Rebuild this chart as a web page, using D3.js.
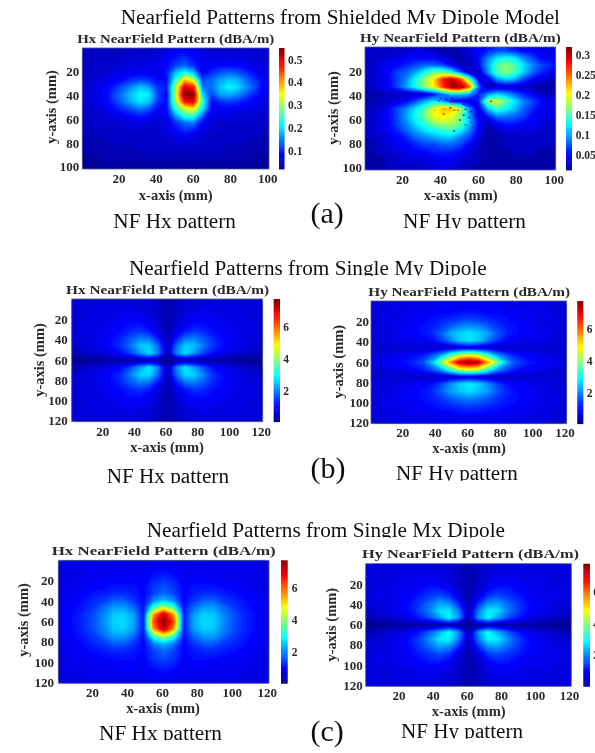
<!DOCTYPE html>
<html><head><meta charset="utf-8">
<script src="https://cdnjs.cloudflare.com/ajax/libs/d3/7.8.5/d3.min.js"></script>
<style>html,body{margin:0;padding:0;background:#fff;overflow:hidden}svg{display:block}</style>
</head><body><svg id="c" width="595" height="753"></svg>
<script>
// 21 columns x 17 rows
const hxShielded=[
.05,.05,.05,.05,.05,.05,.05,.05,.06,.07,.08,.09,.08,.07,.06,.06,.06,.06,.06,.06,.06,
.05,.05,.05,.05,.06,.06,.06,.06,.07,.08,.10,.11,.09,.07,.07,.07,.07,.07,.07,.06,.06,
.05,.05,.06,.06,.06,.07,.07,.07,.07,.09,.12,.14,.11,.08,.08,.09,.09,.09,.08,.07,.07,
.05,.06,.06,.07,.07,.08,.08,.08,.07,.10,.19,.23,.19,.08,.11,.13,.14,.13,.11,.09,.07,
.06,.06,.07,.08,.09,.11,.12,.11,.09,.09,.24,.38,.33,.12,.14,.17,.19,.18,.14,.11,.08,
.06,.07,.08,.10,.13,.16,.19,.17,.11,.10,.30,.50,.47,.15,.14,.19,.22,.20,.16,.12,.08,
.06,.07,.08,.12,.15,.19,.22,.21,.12,.08,.31,.55,.54,.20,.12,.17,.18,.16,.13,.10,.08,
.06,.07,.08,.11,.14,.18,.21,.19,.11,.09,.30,.48,.50,.25,.09,.11,.12,.11,.09,.08,.07,
.06,.06,.07,.09,.11,.13,.15,.13,.09,.09,.24,.33,.36,.22,.08,.08,.08,.08,.07,.07,.06,
.05,.06,.06,.07,.08,.09,.10,.09,.07,.08,.17,.24,.25,.14,.07,.07,.07,.06,.06,.06,.06,
.05,.05,.06,.06,.06,.07,.07,.06,.06,.07,.11,.14,.15,.09,.06,.06,.06,.06,.06,.05,.05,
.05,.05,.05,.05,.05,.06,.06,.05,.06,.07,.09,.11,.10,.07,.06,.06,.05,.05,.05,.05,.05,
.04,.04,.05,.05,.05,.05,.05,.05,.05,.06,.07,.08,.07,.06,.05,.05,.05,.05,.05,.05,.04,
.04,.04,.04,.05,.05,.05,.05,.05,.05,.05,.06,.06,.06,.05,.05,.05,.05,.05,.04,.04,.04,
.04,.04,.04,.04,.04,.04,.05,.05,.05,.05,.05,.05,.05,.05,.05,.05,.04,.04,.04,.04,.04,
.03,.03,.04,.04,.04,.04,.04,.04,.04,.04,.04,.04,.04,.04,.04,.04,.04,.04,.04,.03,.03,
.02,.02,.03,.03,.03,.03,.03,.03,.03,.03,.03,.03,.03,.03,.03,.03,.03,.03,.03,.03,.03];
const hyShielded=[
.03,.03,.03,.03,.03,.04,.04,.03,.02,.02,.03,.04,.05,.06,.07,.07,.06,.05,.05,.04,.04,
.03,.03,.04,.04,.05,.05,.05,.05,.04,.03,.02,.03,.05,.09,.12,.13,.12,.09,.07,.05,.05,
.03,.04,.05,.05,.06,.07,.08,.08,.07,.05,.03,.03,.05,.10,.15,.17,.15,.12,.09,.07,.06,
.03,.04,.05,.07,.08,.10,.13,.16,.16,.13,.08,.03,.03,.09,.15,.17,.15,.11,.08,.06,.05,
.03,.04,.05,.07,.09,.13,.17,.21,.27,.30,.26,.16,.05,.04,.09,.11,.10,.07,.05,.04,.03,
.03,.04,.05,.07,.10,.13,.17,.20,.26,.31,.31,.25,.08,.02,.03,.03,.03,.03,.02,.02,.02,
.02,.02,.03,.03,.03,.03,.03,.05,.08,.11,.11,.10,.06,.09,.11,.10,.08,.06,.05,.03,.03,
.02,.03,.03,.04,.05,.07,.10,.12,.10,.05,.04,.04,.06,.17,.19,.16,.12,.09,.07,.05,.04,
.03,.03,.05,.07,.09,.12,.15,.19,.22,.22,.18,.09,.04,.11,.15,.13,.11,.08,.06,.05,.04,
.03,.04,.05,.07,.10,.13,.16,.20,.21,.20,.17,.10,.04,.06,.09,.09,.08,.07,.05,.04,.04,
.03,.04,.05,.07,.09,.12,.14,.17,.18,.18,.16,.11,.05,.03,.05,.06,.06,.05,.05,.04,.03,
.03,.04,.05,.06,.08,.10,.12,.13,.14,.15,.13,.09,.05,.02,.03,.04,.04,.04,.04,.03,.03,
.03,.03,.04,.05,.06,.08,.09,.10,.11,.11,.09,.07,.04,.02,.02,.03,.03,.03,.03,.03,.03,
.02,.03,.04,.05,.05,.06,.07,.07,.08,.08,.07,.05,.03,.02,.02,.03,.03,.03,.03,.03,.03,
.02,.03,.03,.04,.04,.05,.05,.06,.06,.06,.05,.04,.03,.02,.02,.02,.03,.03,.03,.02,.02,
.02,.02,.03,.03,.04,.04,.04,.04,.05,.05,.04,.03,.03,.02,.02,.02,.02,.02,.02,.02,.02,
.02,.02,.03,.03,.03,.03,.03,.04,.04,.04,.03,.03,.02,.02,.02,.02,.02,.02,.02,.02,.02];
// isolated noisy samples in the Hy shielded map: [x mm, y mm, value]
const hySpecks=[[41.5,55,.29],[45,50,.3],[47,52,.28],[49,52,.26],[42,51,.25],[66.5,44.5,.29],[51.5,33,.31],[37,52,.23],[53,53,.22],[46,47,.24],
[40,42,.05],[43,43,.05],[46,42,.04],[49,43,.04],[52,43,.05],[55,42,.04],[57,44,.05],[52,47,.04],[55,48,.05],[58,47,.04],[53,51,.05],[56,53,.04],[59,50,.05],[52,56,.05],[55,58,.04],[58,56,.05],[60,54,.04],[50,60,.06],[56,62,.05],[57,66,.06],[53,64,.07],[47,69,.06],[60,60,.05],[39,44,.06],[45,45,.07]];
const hxMy=[
.7,.7,.7,.7,.7,.7,.7,.7,.6,.5,.3,.5,.6,.7,.7,.7,.7,.7,.7,.7,.7,
.7,.7,.7,.8,.8,.8,.8,.7,.7,.5,.3,.5,.7,.7,.8,.8,.8,.8,.7,.7,.7,
.7,.7,.8,.8,.8,.9,.9,.9,.8,.5,.3,.5,.8,.9,.9,.9,.8,.8,.8,.7,.7,
.7,.8,.8,.8,.9,1.0,1.1,1.1,.9,.6,.3,.6,.9,1.1,1.1,1.0,.9,.8,.8,.8,.7,
.7,.8,.8,.9,.95,1.1,1.3,1.4,1.2,.8,.3,.8,1.2,1.4,1.3,1.1,.95,.9,.8,.8,.7,
.7,.7,.8,.9,1.1,1.3,1.7,2.0,1.9,1.2,.3,1.2,1.9,2.0,1.7,1.3,1.1,.9,.8,.7,.7,
.6,.7,.8,.9,1.1,1.4,1.9,2.5,2.6,1.8,.4,1.8,2.6,2.5,1.9,1.4,1.1,.9,.8,.7,.6,
.4,.5,.6,.7,.9,1.1,1.5,2.1,2.7,2.0,.4,2.0,2.7,2.1,1.5,1.1,.9,.7,.6,.5,.4,
.1,.1,.1,.2,.2,.2,.2,.2,.2,.2,.1,.2,.2,.2,.2,.2,.2,.2,.1,.1,.1,
.4,.5,.6,.7,.9,1.1,1.6,2.2,2.8,2.0,.4,2.0,2.8,2.2,1.6,1.1,.9,.7,.6,.5,.4,
.6,.7,.8,.9,1.1,1.4,2.0,2.6,2.7,1.8,.4,1.8,2.7,2.6,2.0,1.4,1.1,.9,.8,.7,.6,
.7,.7,.8,.9,1.1,1.3,1.7,2.0,1.9,1.2,.3,1.2,1.9,2.0,1.7,1.3,1.1,.9,.8,.7,.7,
.7,.8,.8,.9,.95,1.1,1.3,1.4,1.2,.8,.3,.8,1.2,1.4,1.3,1.1,.95,.9,.8,.8,.7,
.7,.8,.8,.8,.9,1.0,1.1,1.1,.9,.6,.3,.6,.9,1.1,1.1,1.0,.9,.8,.8,.8,.7,
.7,.7,.8,.8,.8,.9,.9,.9,.8,.5,.3,.5,.8,.9,.9,.9,.8,.8,.8,.7,.7,
.7,.7,.7,.8,.8,.8,.8,.7,.7,.5,.3,.5,.7,.7,.8,.8,.8,.8,.7,.7,.7,
.7,.7,.7,.7,.7,.7,.7,.7,.6,.5,.3,.5,.6,.7,.7,.7,.7,.7,.7,.7,.7];
const hyMy=[
.7,.7,.8,.8,.8,.8,.8,.9,.9,.9,.9,.9,.9,.9,.8,.8,.8,.8,.8,.7,.7,
.7,.7,.8,.8,.9,.9,.9,1.0,1.0,1.1,1.1,1.1,1.0,1.0,.9,.9,.9,.8,.8,.7,.7,
.7,.8,.8,.9,.9,1.0,1.1,1.2,1.3,1.4,1.5,1.4,1.3,1.2,1.1,1.0,.9,.9,.8,.8,.7,
.7,.8,.8,.9,1.0,1.1,1.2,1.4,1.7,2.0,2.1,2.0,1.7,1.4,1.2,1.1,1.0,.9,.8,.8,.7,
.7,.7,.8,.9,1.0,1.1,1.3,1.7,2.3,2.6,2.8,2.6,2.3,1.7,1.3,1.1,1.0,.9,.8,.7,.7,
.7,.7,.8,.8,.8,.9,1.0,1.4,1.9,2.5,2.7,2.5,1.9,1.4,1.0,.9,.8,.8,.8,.7,.7,
.6,.6,.6,.6,.6,.6,.5,.5,.5,.5,.6,.5,.5,.5,.5,.6,.6,.6,.6,.6,.6,
.6,.7,.8,.9,1.0,1.2,1.6,2.2,3.3,4.3,4.6,4.3,3.3,2.2,1.6,1.2,1.0,.9,.8,.7,.6,
.8,.9,1.0,1.1,1.3,1.6,2.4,4.0,5.6,7.2,7.6,7.2,5.6,4.0,2.4,1.6,1.3,1.1,1.0,.9,.8,
.6,.7,.8,.9,1.0,1.2,1.6,2.2,3.3,4.3,4.6,4.3,3.3,2.2,1.6,1.2,1.0,.9,.8,.7,.6,
.6,.6,.6,.6,.6,.6,.5,.5,.5,.5,.6,.5,.5,.5,.5,.6,.6,.6,.6,.6,.6,
.7,.7,.8,.8,.9,1.0,1.1,1.5,2.1,2.6,2.9,2.6,2.1,1.5,1.1,1.0,.9,.8,.8,.7,.7,
.7,.7,.8,.9,1.0,1.1,1.3,1.7,2.2,2.5,2.7,2.5,2.2,1.7,1.3,1.1,1.0,.9,.8,.7,.7,
.7,.8,.8,.9,1.0,1.1,1.2,1.4,1.7,1.9,2.0,1.9,1.7,1.4,1.2,1.1,1.0,.9,.8,.8,.7,
.7,.8,.8,.9,.9,1.0,1.1,1.2,1.3,1.4,1.5,1.4,1.3,1.2,1.1,1.0,.9,.9,.8,.8,.7,
.7,.7,.8,.8,.9,.9,.9,1.0,1.0,1.1,1.1,1.1,1.0,1.0,.9,.9,.9,.8,.8,.7,.7,
.7,.7,.8,.8,.8,.8,.8,.9,.9,.9,.9,.9,.9,.9,.8,.8,.8,.8,.8,.7,.7];
const hxMx=[
.8,.8,.8,.8,.8,.9,.9,.9,.8,.9,.9,.9,.8,.9,.9,.9,.8,.8,.8,.8,.8,
.8,.8,.8,.9,.9,.9,.9,.9,.9,1.0,1.1,1.0,.9,.9,.9,.9,.9,.9,.8,.8,.8,
.8,.8,.9,.9,.9,.9,1.0,1.0,.9,1.2,1.3,1.2,.9,1.0,1.0,.9,.9,.9,.9,.8,.8,
.8,.9,.9,1.0,1.0,1.1,1.1,1.1,1.0,1.4,1.6,1.4,1.0,1.1,1.1,1.1,1.0,1.0,.9,.9,.8,
.8,.9,1.0,1.1,1.2,1.3,1.3,1.2,1.0,1.5,1.8,1.5,1.0,1.2,1.3,1.3,1.2,1.1,1.0,.9,.8,
.9,.9,1.1,1.3,1.4,1.7,1.7,1.4,1.0,2.0,2.4,2.0,1.0,1.4,1.7,1.7,1.4,1.3,1.1,1.0,.9,
.9,1.0,1.2,1.4,1.8,2.2,2.2,1.8,1.1,3.3,4.4,3.3,1.1,1.8,2.2,2.2,1.8,1.4,1.2,1.0,.9,
.9,1.1,1.3,1.6,2.0,2.5,2.6,2.2,1.1,5.6,7.2,5.6,1.1,2.2,2.6,2.5,2.0,1.6,1.3,1.1,.9,
.9,1.1,1.3,1.6,2.1,2.6,2.7,2.3,1.1,6.2,7.7,6.2,1.1,2.3,2.7,2.6,2.1,1.6,1.3,1.1,.9,
.9,1.1,1.3,1.6,2.0,2.5,2.6,2.2,1.1,5.6,7.2,5.6,1.1,2.2,2.6,2.5,2.0,1.6,1.3,1.1,.9,
.9,1.0,1.2,1.4,1.8,2.2,2.2,1.8,1.1,3.3,4.4,3.3,1.1,1.8,2.2,2.2,1.8,1.4,1.2,1.0,.9,
.9,.9,1.1,1.3,1.4,1.7,1.7,1.4,1.0,2.0,2.4,2.0,1.0,1.4,1.7,1.7,1.4,1.3,1.1,1.0,.9,
.8,.9,1.0,1.1,1.2,1.3,1.3,1.2,1.0,1.5,1.8,1.5,1.0,1.2,1.3,1.3,1.2,1.1,1.0,.9,.8,
.8,.9,.9,1.0,1.0,1.1,1.1,1.1,1.0,1.4,1.6,1.4,1.0,1.1,1.1,1.1,1.0,1.0,.9,.9,.8,
.8,.8,.9,.9,.9,.9,1.0,1.0,.9,1.2,1.3,1.2,.9,1.0,1.0,.9,.9,.9,.9,.8,.8,
.8,.8,.8,.9,.9,.9,.9,.9,.9,1.0,1.1,1.0,.9,.9,.9,.9,.9,.9,.8,.8,.8,
.8,.8,.8,.8,.8,.9,.9,.9,.8,.9,.9,.9,.8,.9,.9,.9,.8,.8,.8,.8,.8];
const hyMx=[
.7,.7,.7,.7,.7,.7,.7,.7,.6,.5,.3,.5,.6,.7,.7,.7,.7,.7,.7,.7,.7,
.7,.7,.7,.8,.8,.8,.8,.8,.7,.5,.3,.5,.7,.8,.8,.8,.8,.8,.7,.7,.7,
.7,.7,.8,.8,.8,.9,.9,.9,.8,.5,.3,.5,.8,.9,.9,.9,.8,.8,.8,.7,.7,
.7,.8,.8,.9,.9,1.0,1.2,1.2,1.0,.6,.3,.6,1.0,1.2,1.2,1.0,.9,.9,.8,.8,.7,
.7,.8,.8,.9,1.0,1.2,1.4,1.6,1.4,.8,.3,.8,1.4,1.6,1.4,1.2,1.0,.9,.8,.8,.7,
.7,.7,.8,.9,1.1,1.4,1.8,2.2,2.1,1.3,.3,1.3,2.1,2.2,1.8,1.4,1.1,.9,.8,.7,.7,
.6,.7,.8,.9,1.1,1.5,2.0,2.7,2.8,1.9,.4,1.9,2.8,2.7,2.0,1.5,1.1,.9,.8,.7,.6,
.4,.5,.6,.7,.9,1.2,1.6,2.2,2.9,2.1,.4,2.1,2.9,2.2,1.6,1.2,.9,.7,.6,.5,.4,
.1,.1,.1,.2,.2,.2,.2,.2,.2,.2,.1,.2,.2,.2,.2,.2,.2,.2,.1,.1,.1,
.4,.5,.6,.7,.9,1.2,1.7,2.3,3.0,2.1,.4,2.1,3.0,2.3,1.7,1.2,.9,.7,.6,.5,.4,
.6,.7,.8,.9,1.1,1.5,2.1,2.8,2.9,1.9,.4,1.9,2.9,2.8,2.1,1.5,1.1,.9,.8,.7,.6,
.7,.7,.8,.9,1.1,1.4,1.8,2.2,2.1,1.3,.3,1.3,2.1,2.2,1.8,1.4,1.1,.9,.8,.7,.7,
.7,.8,.8,.9,1.0,1.2,1.4,1.6,1.4,.8,.3,.8,1.4,1.6,1.4,1.2,1.0,.9,.8,.8,.7,
.7,.8,.8,.9,.9,1.0,1.2,1.2,1.0,.6,.3,.6,1.0,1.2,1.2,1.0,.9,.9,.8,.8,.7,
.7,.7,.8,.8,.8,.9,.9,.9,.8,.5,.3,.5,.8,.9,.9,.9,.8,.8,.8,.7,.7,
.7,.7,.7,.8,.8,.8,.8,.8,.7,.5,.3,.5,.7,.8,.8,.8,.8,.8,.7,.7,.7,
.7,.7,.7,.7,.7,.7,.7,.7,.6,.5,.3,.5,.6,.7,.7,.7,.7,.7,.7,.7,.7];
const COLS=21,ROWS=17;
const ticks100=[20,40,60,80,100];
const ticks120=[20,40,60,80,100,120];
const barTicksA1=[.1,.2,.3,.4,.5];
const barTicksA2=[.05,.1,.15,.2,.25,.3];
const barTicksV=[2,4,6];
const hxTitle="Hx NearField Pattern (dBA/m)",hyTitle="Hy NearField Pattern (dBA/m)";
const xLabel="x-axis (mm)",yLabel="y-axis (mm)";
const figureTitles=["Nearfield Patterns from Shielded My Dipole Model","Nearfield Patterns from Single My Dipole","Nearfield Patterns from Single Mx Dipole"];
const captionHx="NF Hx pattern",captionHy="NF Hy pattern";
const tags=["(a)","(b)","(c)"];

const panels=[
{d:hxShielded,t:hxTitle,tx:[77.3,197],tb:42.7,x:[82.3,269],y:[48,169],xd:[.5,101],yd:[0,102],xt:ticks100,yt:ticks100,xtb:183.3,xlc:175.7,xlb:200,ylx:56,yly:107,tr:79.3,cb:[279,284.5],v:[.02,.55],bt:barTicksA1,bx:288},
{d:hyShielded,t:hyTitle,tx:[360,200.7],tb:41.7,x:[365,555.7],y:[47,170],xd:[.5,101],yd:[0,102],xt:ticks100,yt:ticks100,xtb:184,xlc:460.7,xlb:200,ylx:338,yly:108,tr:362,cb:[566,572],v:[.0125,.32],bt:barTicksA2,bx:575.7,specks:hySpecks},
{d:hxMy,t:hxTitle,tx:[66,203],tb:294,x:[71.7,262.7],y:[299,421.7],xd:[.7,121.3],yd:[0,121],xt:ticks120,yt:ticks120,xtb:436,xlc:167,xlb:451.7,ylx:44,yly:360,tr:67.7,cb:[273.7,280],v:[.05,7.75],bt:barTicksV,bx:283.3},
{d:hyMy,t:hyTitle,tx:[368.3,201.7],tb:295.7,x:[371,566.7],y:[301,423.7],xd:[.7,121.3],yd:[0,121],xt:ticks120,yt:ticks120,xtb:437.3,xlc:469,xlb:453.3,ylx:343,yly:361.7,tr:369,cb:[577.3,583.3],v:[.05,7.75],bt:barTicksV,bx:586.7},
{d:hxMx,t:hxTitle,tx:[51.7,224],tb:554.7,x:[58.3,269],y:[560.3,683.3],xd:[.7,121.3],yd:[0,121],xt:ticks120,yt:ticks120,xtb:697.3,xlc:163,xlb:713,ylx:28,yly:620,tr:54,cb:[281,287.7],v:[.05,7.75],bt:barTicksV,bx:291.7},
{d:hyMx,t:hyTitle,tx:[362,217],tb:558,x:[365.7,571.3],y:[563.7,686.3],xd:[.7,121.3],yd:[0,121],xt:ticks120,yt:ticks120,xtb:700.3,xlc:468.7,xlb:715.7,ylx:336,yly:624.7,tr:362.7,cb:[583.3,590],v:[.05,7.75],bt:barTicksV,bx:593.3}
];
const serif="'Liberation Serif','Times New Roman',serif";
const svg=d3.select("#c");
const defs=svg.append("defs");
defs.append("filter").attr("id","soft").attr("x","-5%").attr("y","-5%").attr("width","110%").attr("height","110%")
  .append("feGaussianBlur").attr("stdDeviation",.6);
defs.append("filter").attr("id","page").attr("filterUnits","userSpaceOnUse").attr("x",0).attr("y",0).attr("width",595).attr("height",753)
  .append("feGaussianBlur").attr("stdDeviation",.35);
const root=svg.append("g").attr("filter","url(#page)");
root.append("rect").attr("width",595).attr("height",753).attr("fill","#fff");
const jet=d3.scaleLinear().domain([0,.125,.375,.625,.875,1]).range(["#00008f","#0000ff","#00ffff","#ffff00","#ff0000","#800000"]).clamp(true);

panels.forEach((p,pi)=>{
  const x=d3.scaleLinear().domain(p.xd).range(p.x);
  const y=d3.scaleLinear().domain(p.yd).range(p.y);
  const gx=d3.scaleLinear().domain([0,COLS]).range(p.x);
  const gy=d3.scaleLinear().domain([0,ROWS]).range(p.y);
  const color=d3.scaleLinear().domain(p.v).range([0,1]);
  const col=v=>jet(color(v));
  const g=root.append("g");
  const clipId="clip"+pi;
  defs.append("clipPath").attr("id",clipId).append("rect").attr("x",p.x[0]).attr("y",p.y[0]).attr("width",p.x[1]-p.x[0]).attr("height",p.y[1]-p.y[0]);
  const heat=g.append("g").attr("clip-path",`url(#${clipId})`);
  heat.append("rect").attr("x",p.x[0]).attr("y",p.y[0]).attr("width",p.x[1]-p.x[0]).attr("height",p.y[1]-p.y[0]).attr("fill",col(d3.median(p.d)));
  const step=(p.v[1]-p.v[0])/90;
  const levels=d3.range(p.v[0],p.v[1],step);
  const cs=d3.contours().size([COLS,ROWS]).smooth(true).thresholds(levels)(p.d);
  const path=d3.geoPath(d3.geoTransform({point(a,b){this.stream.point(gx(a),gy(b));}}));
  heat.append("g").attr("filter","url(#soft)").selectAll("path").data(cs).join("path")
    .attr("d",path).attr("fill",c=>col(c.value+step/2)).attr("stroke",c=>col(c.value+step/2)).attr("stroke-width",.3);
  if(p.specks){
    heat.append("g").selectAll("rect").data(p.specks).join("rect")
      .attr("x",s=>x(s[0])).attr("y",s=>y(s[1])).attr("width",1.9).attr("height",1.3).attr("fill",s=>col(s[2]));
  }
  g.append("rect").attr("x",p.x[0]).attr("y",p.y[0]).attr("width",p.x[1]-p.x[0]).attr("height",p.y[1]-p.y[0]).attr("fill","none").attr("stroke","#55558f").attr("stroke-width",.8);

  const bold=s=>s.attr("font-family",serif).attr("font-weight","bold").attr("fill","#2a2a2a");
  bold(g.append("text")).attr("x",p.tx[0]).attr("y",p.tb).attr("font-size",12.5).attr("textLength",p.tx[1]).attr("lengthAdjust","spacingAndGlyphs").text(p.t);
  const axisX=d3.axisBottom(x).tickValues(p.xt).tickSize(0);
  const ax=g.append("g").attr("transform",`translate(0,${p.xtb-10})`).call(axisX);
  ax.select(".domain").remove();
  bold(ax.selectAll("text")).attr("font-size",13).attr("y",0).attr("dy",10);
  const axisY=d3.axisLeft(y).tickValues(p.yt).tickSize(0);
  const ay=g.append("g").attr("transform",`translate(${p.tr+3},0)`).call(axisY);
  ay.select(".domain").remove();
  bold(ay.selectAll("text")).attr("font-size",13);
  bold(g.append("text")).attr("x",p.xlc).attr("y",p.xlb).attr("text-anchor","middle").attr("font-size",14.5).text(xLabel);
  bold(g.append("text")).attr("transform",`translate(${p.ylx},${p.yly}) rotate(-90)`).attr("text-anchor","middle").attr("font-size",14.5).text(yLabel);

  const bar=d3.scaleLinear().domain(p.v).range([p.y[1],p.y[0]]);
  const barLevels=d3.range(p.v[0],p.v[1],(p.v[1]-p.v[0])/64);
  g.append("g").selectAll("rect").data(barLevels).join("rect")
    .attr("x",p.cb[0]).attr("width",p.cb[1]-p.cb[0])
    .attr("y",v=>bar(v+(p.v[1]-p.v[0])/64)).attr("height",(p.y[1]-p.y[0])/64+.4).attr("fill",v=>col(v+(p.v[1]-p.v[0])/128));
  const ab=g.append("g").attr("transform",`translate(${p.bx-3},0)`).call(d3.axisRight(bar).tickValues(p.bt).tickSize(0).tickFormat(d=>String(d)));
  ab.select(".domain").remove();
  bold(ab.selectAll("text")).attr("font-size",11.5);
});

const topTexts=[
{s:figureTitles[0],x:120.7,w:439.3,b:23.5,fs:20},
{s:figureTitles[1],x:129,w:357.7,b:275,fs:20},
{s:figureTitles[2],x:146.7,w:358.3,b:536.7,fs:20},
{s:captionHx,x:113.3,w:122.7,b:227.8,fs:20},
{s:captionHy,x:403,w:123,b:227.7,fs:20},
{s:captionHx,x:106.7,w:122.3,b:482.5,fs:20},
{s:captionHy,x:396,w:121.7,b:480,fs:20},
{s:captionHx,x:99,w:123,b:739.5,fs:20},
{s:captionHy,x:401,w:122,b:738,fs:20}];
topTexts.forEach((t,i)=>{
  defs.append("clipPath").attr("id","cut"+i).append("rect").attr("x",t.x-5).attr("y",t.b-25).attr("width",t.w+10).attr("height",25.8);
  root.append("g").attr("clip-path",`url(#cut${i})`).append("text")
    .attr("x",t.x).attr("y",t.b).attr("font-family",serif).attr("font-size",t.fs).attr("fill","#111")
    .attr("textLength",t.w).attr("lengthAdjust","spacingAndGlyphs").text(t.s);
});
[[310.5,222.7],[310.5,477.7],[310.5,741]].forEach((q,i)=>{
  root.append("text").attr("x",q[0]).attr("y",q[1]).attr("font-family",serif).attr("font-size",30).attr("fill","#111").text(tags[i]);
});
</script></body></html>
